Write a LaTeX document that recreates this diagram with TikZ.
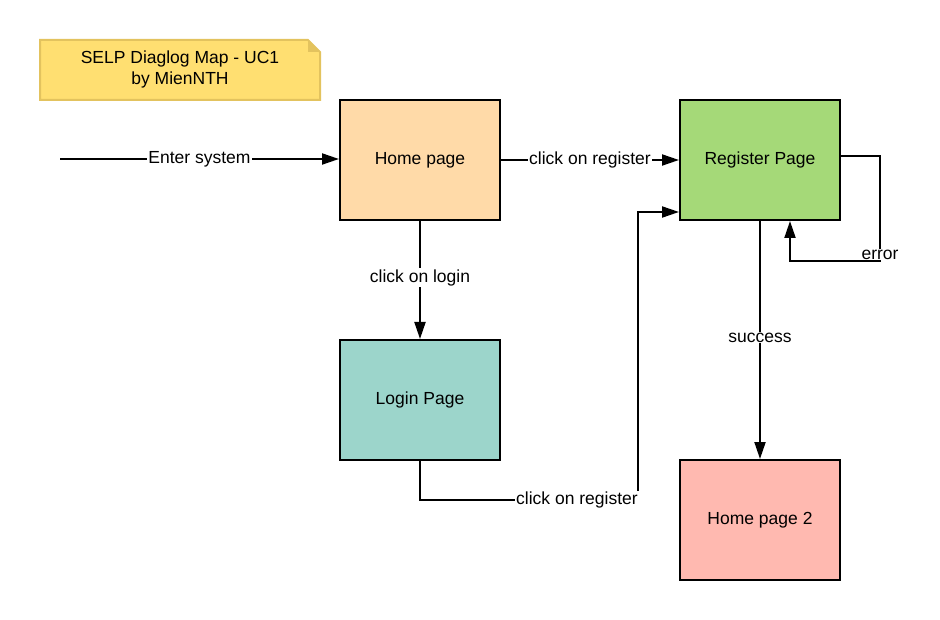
\documentclass[tikz,border=0pt]{standalone}
\usepackage{fontspec}
\setmainfont{Liberation Sans}
\usetikzlibrary{arrows.meta,positioning}
\definecolor{homec}{HTML}{FFDAA8}
\definecolor{regc}{HTML}{A5D978}
\definecolor{loginc}{HTML}{9CD5CB}
\definecolor{home2c}{HTML}{FFB9B0}
\definecolor{notec}{HTML}{FFDF71}
\definecolor{noteline}{HTML}{E3C35E}
\tikzset{page/.style={draw,line width=2pt,minimum width=160pt,minimum height=120pt,inner sep=0pt},lbl/.style={fill=white,inner sep=1pt},arr/.style={line width=2pt,-{Triangle[length=17pt,width=11pt]}}}

\begin{document}
\begin{tikzpicture}[x=1pt,y=-1pt,font=\fontsize{17.5}{21}\selectfont]
\useasboundingbox(0,0)rectangle(940,620);
% note
\fill[notec,draw=noteline,line width=2pt](40,40)--(308,40)--(320,52)--(320,100)--(40,100)--cycle;
\fill[noteline](308,40)--(320,52)--(308,52)--cycle;
\node[align=center](title)at(180,69){SELP Diaglog Map - UC1\\by MienNTH};
% pages
\node[page,fill=homec](home)at(420,160){Home page};\node[page,fill=regc](reg)at(760,160){Register Page};
\node[page,fill=loginc](login)at(420,400){Login Page};\node[page,fill=home2c](home2)at(760,520){Home page 2};
\coordinate(start)at(60,159);\coordinate(lr)at(638,500);\coordinate(er)at(880,261);
% connectors
\draw[arr](start)--node[lbl]{Enter system}(start-|home.west);
\draw[arr](home.east)--node[lbl]{click on register}(reg.west);
\draw[arr](home.south)--node[lbl,pos=.48]{click on login}(login.north);
\draw[arr](reg.south)--node[lbl,pos=.49]{success}(home2.north);
\draw[arr](login.south)|-node[lbl,pos=.86]{click on register}(lr)|-([yshift=9pt]reg.south west);
\draw[arr]([yshift=4pt]reg.east)-|node[lbl,pos=.97]{error}(er)-|([xshift=30pt]reg.south);
\end{tikzpicture}
\end{document}
